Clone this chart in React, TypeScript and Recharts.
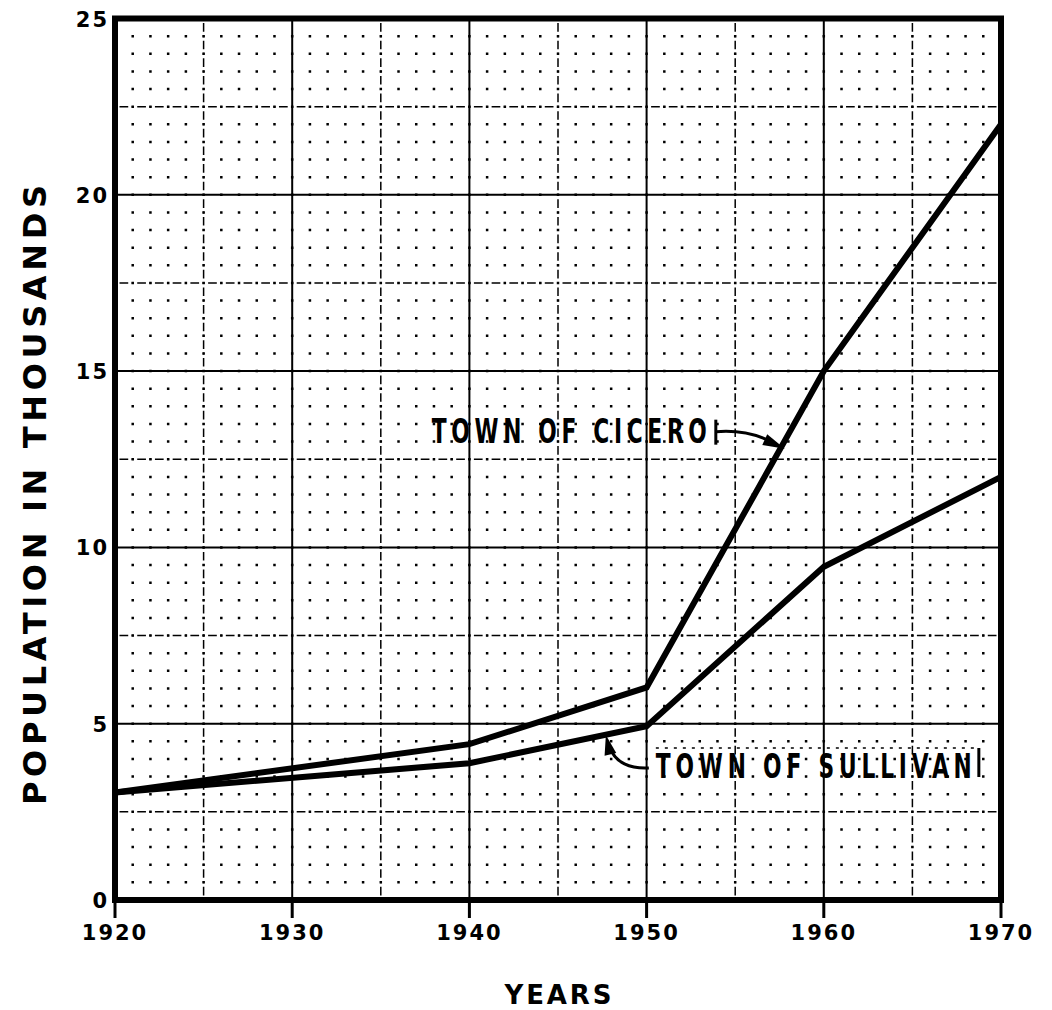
import React from 'react';
import { LineChart, Line, XAxis, YAxis, ReferenceLine, ReferenceArea, ReferenceDot } from 'recharts';

// values (population in thousands)
const years = [1920, 1940, 1950, 1960, 1970];
const cicero = [3.05, 4.42, 6.03, 15.0, 22.0];
const sullivan = [3.05, 3.88, 4.93, 9.45, 12.0];

const yearTicks = [1920, 1930, 1940, 1950, 1960, 1970];
const valueTicks = [0, 5, 10, 15, 20, 25];
const majorYears = [1930, 1940, 1950, 1960];
const majorValues = [5, 10, 15, 20];
const halfYears = [1925, 1935, 1945, 1955, 1965];
const halfValues = [2.5, 7.5, 12.5, 17.5, 22.5];
const dotYears = Array.from({ length: 49 }, (_, i) => 1921 + i);

const rows = years.map((year, i) => ({ year, cicero: cicero[i], sullivan: sullivan[i] }));

const W = 1052;
const H = 1010;
const TOP = 18.5;
const BOTTOM = 900;
const LEFT = 115;
const RIGHT = 1001;
const yStep = (BOTTOM - TOP) / 50; // half-unit spacing in px
const xStep = (RIGHT - LEFT) / 50; // one year in px
const SQUEEZE = 0.64; // lettering guide is much narrower than the font

const tickFont = {
    fontFamily: '"DejaVu Sans", sans-serif',
    fontWeight: 700,
    fontSize: 21,
    letterSpacing: 2,
    fill: '#000',
};
const letterFont = {
    fontFamily: '"DejaVu Sans", sans-serif',
    fontWeight: 700,
    fontSize: 34,
    fill: '#000',
};

const XTick = (props: any) => (
    <text x={props.x} y={props.y + 20} textAnchor="middle" style={tickFont}>
        {props.payload.value}
    </text>
);
const LeftTick = (props: any) => (
    <text x={props.x - 6} y={props.y + 8} textAnchor="end" style={tickFont}>
        {props.payload.value}
    </text>
);
const RightTick = (props: any) => (
    <text x={props.x + 11} y={props.y + 8} textAnchor="start" style={tickFont}>
        {props.payload.value}
    </text>
);

const head = (fx: number, fy: number, len: number, half: number) => {
    const d = Math.hypot(fx, fy);
    const ux = fx / d, uy = fy / d;
    const bx = ux * len, by = uy * len;
    return `0,0 ${bx - uy * half},${by + ux * half} ${bx + uy * half},${by - ux * half}`;
};

const Lettering = ({ x, y, width, children }: any) => (
    <g transform={`translate(${x},${y}) scale(${SQUEEZE},1)`}>
        <text x={0} y={0} textLength={width / SQUEEZE} lengthAdjust="spacing" style={letterFont}>
            {children}
        </text>
    </g>
);

const CiceroNote = (props: any) => {
    const { cx, cy } = props;
    return (
        <g transform={`translate(${cx},${cy})`}>
            <Lettering x={-353} y={-6} width={275}>TOWN OF CICERO</Lettering>
            <line x1={-69} y1={-29} x2={-69} y2={-4} stroke="#000" strokeWidth={3} />
            <path d="M -69 -17 C -45 -19, -25 -14, -8 -4" fill="none" stroke="#000" strokeWidth={3} />
            <polygon points={head(-20, -9, 22, 6)} fill="#000" />
        </g>
    );
};

const SullivanNote = (props: any) => {
    const { cx, cy } = props;
    return (
        <g transform={`translate(${cx},${cy})`}>
            <line x1={50} y1={13} x2={373} y2={13} stroke="#000" strokeWidth={1.5} strokeDasharray="3 6" />
            <Lettering x={50} y={43} width={316}>TOWN OF SULLIVAN</Lettering>
            <line x1={373} y1={13} x2={373} y2={42} stroke="#000" strokeWidth={3} />
            <path d="M 43 33 C 25 34, 9 28, 4 12" fill="none" stroke="#000" strokeWidth={3} />
            <polygon points={head(4, 17, 20, 6)} fill="#000" />
        </g>
    );
};

export default function App() {
    return (
        <div style={{ position: 'absolute', left: 0, top: 0, width: W, height: H, background: '#fff' }}>
            <LineChart width={W} height={H} data={rows} margin={{ top: TOP, right: 0, bottom: 0, left: 0 }}>
                <XAxis
                    dataKey="year"
                    type="number"
                    domain={[1920, 1970]}
                    ticks={yearTicks}
                    interval={0}
                    height={H - BOTTOM}
                    axisLine={false}
                    tickSize={18}
                    tickLine={{ stroke: '#000', strokeWidth: 3 }}
                    tick={XTick}
                />
                <YAxis
                    type="number"
                    domain={[0, 25]}
                    ticks={valueTicks}
                    interval={0}
                    width={LEFT}
                    axisLine={false}
                    tickLine={false}
                    tickSize={0}
                    tickMargin={0}
                    tick={LeftTick}
                />
                <YAxis
                    yAxisId="right"
                    orientation="right"
                    type="number"
                    domain={[0, 25]}
                    ticks={valueTicks}
                    interval={0}
                    width={W - RIGHT}
                    axisLine={false}
                    tickLine={false}
                    tickSize={0}
                    tickMargin={0}
                    tick={RightTick}
                />

                {/* dotted graph paper: a dot every year and every half thousand */}
                {dotYears.map((yr) => (
                    <ReferenceLine
                        key={'d' + yr}
                        x={yr}
                        stroke="#000"
                        strokeWidth={2.5}
                        strokeDasharray={`2.5 ${yStep - 2.5}`}
                        strokeDashoffset={1.25}
                    />
                ))}
                {halfYears.map((yr) => (
                    <ReferenceLine
                        key={'hy' + yr}
                        x={yr}
                        stroke="#000"
                        strokeWidth={1.5}
                        strokeDasharray={`2 3.5 ${yStep - 9} 3.5`}
                        strokeDashoffset={1}
                    />
                ))}
                {halfValues.map((v) => (
                    <ReferenceLine
                        key={'hv' + v}
                        y={v}
                        stroke="#000"
                        strokeWidth={1.5}
                        strokeDasharray={`2 3.5 ${xStep - 9} 3.5`}
                        strokeDashoffset={1}
                    />
                ))}
                {majorYears.map((yr) => (
                    <ReferenceLine key={'my' + yr} x={yr} stroke="#000" strokeWidth={2} />
                ))}
                {majorValues.map((v) => (
                    <ReferenceLine key={'mv' + v} y={v} stroke="#000" strokeWidth={2} />
                ))}

                <ReferenceArea x1={1920} x2={1970} y1={0} y2={25} fill="none" stroke="#000" strokeWidth={6} />

                <Line
                    type="linear"
                    dataKey="cicero"
                    stroke="#000"
                    strokeWidth={6}
                    dot={false}
                    activeDot={false}
                    isAnimationActive={false}
                />
                <Line
                    type="linear"
                    dataKey="sullivan"
                    stroke="#000"
                    strokeWidth={6}
                    dot={false}
                    activeDot={false}
                    isAnimationActive={false}
                />

                <ReferenceDot x={1957.8} y={12.8} r={1} shape={CiceroNote} />
                <ReferenceDot x={1947.7} y={4.68} r={1} shape={SullivanNote} />
            </LineChart>
            <svg width={W} height={H} style={{ position: 'absolute', left: 0, top: 0, pointerEvents: 'none' }}>
                <text
                    transform="translate(46,495) rotate(-90)"
                    textAnchor="middle"
                    textLength={620}
                    lengthAdjust="spacing"
                    style={{ fontFamily: '"DejaVu Sans", sans-serif', fontWeight: 700, fontSize: 32, fill: '#000' }}
                >
                    POPULATION IN THOUSANDS
                </text>
                <text
                    x={558}
                    y={1004}
                    textAnchor="middle"
                    textLength={107}
                    lengthAdjust="spacing"
                    style={{ fontFamily: '"DejaVu Sans", sans-serif', fontWeight: 700, fontSize: 26, fill: '#000' }}
                >
                    YEARS
                </text>
            </svg>
        </div>
    );
}
